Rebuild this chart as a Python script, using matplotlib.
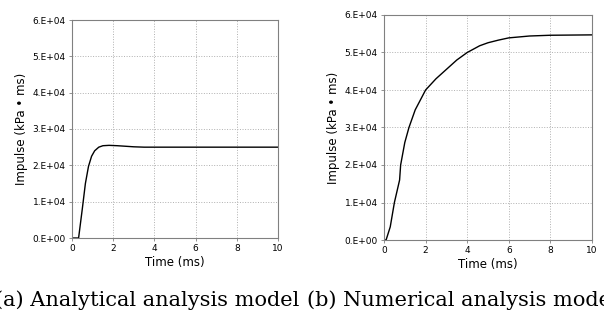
import numpy as np
import matplotlib.pyplot as plt

# (a) analytical model
t_a = [0, 0.32, 0.5, 0.65, 0.8, 0.95, 1.1, 1.3, 1.5, 1.8, 2.2, 3.0, 3.5, 5, 10]
imp_a = [0, 0, 8.0e3, 1.5e4, 1.97e4, 2.25e4, 2.4e4, 2.5e4, 2.54e4, 2.55e4, 2.54e4, 2.51e4, 2.5e4, 2.5e4, 2.5e4]

# (b) numerical model
t_b = [0, 0.1, 0.3, 0.5, 0.75, 0.8, 1.0, 1.2, 1.5, 2.0, 2.5, 3.0, 3.5, 4.0, 4.6, 5.0, 5.5, 6.0, 7.0, 8.0, 10.0]
imp_b = [0, 0, 3.5e3, 1.0e4, 1.6e4, 2.0e4, 2.6e4, 3.0e4, 3.47e4, 4.0e4, 4.3e4, 4.55e4, 4.8e4, 5.0e4,
         5.18e4, 5.26e4, 5.33e4, 5.39e4, 5.44e4, 5.46e4, 5.47e4]

yticks = [0, 1e4, 2e4, 3e4, 4e4, 5e4, 6e4]
ylabels = ['0.E+00', '1.E+04', '2.E+04', '3.E+04', '4.E+04', '5.E+04', '6.E+04']
xticks = [0, 2, 4, 6, 8, 10]
captions = ['(a) Analytical analysis model', '(b) Numerical analysis model']

W, H = 604, 322
fig = plt.figure(figsize=(W / 100, H / 100), dpi=100)

boxes = [(72, 20, 278, 238), (384, 15, 592, 240)]
data = [(t_a, imp_a), (t_b, imp_b)]

for (l, tp, r, b), (t, v) in zip(boxes, data):
    ax = fig.add_axes([l / W, 1 - b / H, (r - l) / W, (b - tp) / H])
    ax.plot(t, v, color='black', lw=1.0)
    ax.set_xlim(0, 10)
    ax.set_ylim(0, 6e4)
    ax.set_xticks(xticks)
    ax.set_yticks(yticks)
    ax.set_yticklabels(ylabels)
    ax.grid(True, color='#b0b0b0', ls=':', lw=0.7)
    for s in ax.spines.values():
        s.set_color('#808080')
        s.set_linewidth(0.8)
    ax.tick_params(labelsize=6.5, length=2.5, width=0.6, color='#808080', pad=2)
    ax.set_xlabel('Time (ms)', fontsize=8.5, labelpad=2)
    ax.set_ylabel('Impulse (kPa \u2022 ms)', fontsize=8.5, labelpad=3)

fig.text(-5 / W, 1 - 300 / H, captions[0], family='DejaVu Serif', fontsize=15, va='center', ha='left')
fig.text(307 / W, 1 - 300 / H, captions[1], family='DejaVu Serif', fontsize=15, va='center', ha='left')

fig.savefig('out.png', dpi=100)
